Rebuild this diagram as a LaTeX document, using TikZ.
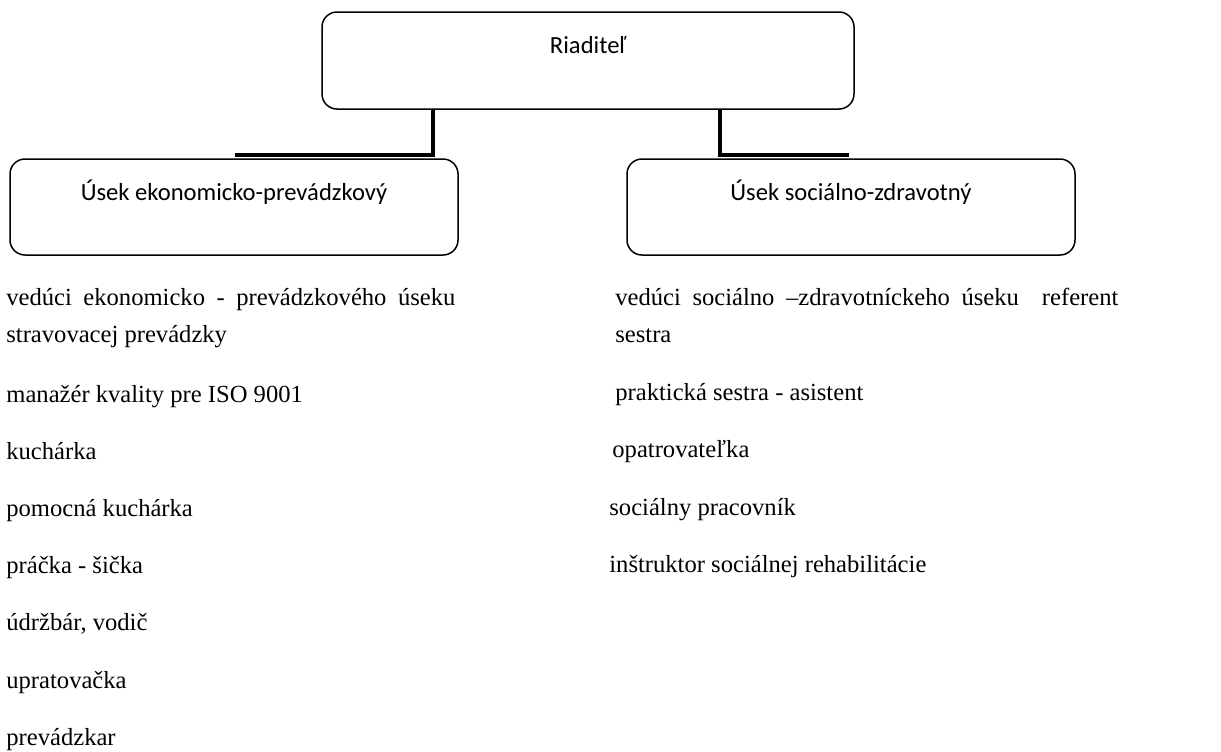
\documentclass[tikz,border=0pt]{standalone}
\usepackage{fontspec}
\setmainfont{Liberation Serif}
\newfontfamily\boxfont{Carlito}

\tikzset{
    usekbox/.style={draw, rounded corners=7.5pt, line width=0.75pt, inner sep=0pt,
        minimum height=48pt, text height=8pt, text depth=15pt,
        font=\boxfont\fontsize{12.3}{14}\selectfont},
    spoj/.style={line width=2pt},
    polozka/.style={anchor=base west, inner sep=0pt, font=\fontsize{12.3}{18.5}\selectfont},
}

\begin{document}
\begin{tikzpicture}[x=0.5pt,y=-0.5pt]
    \useasboundingbox (0,0) rectangle (1221,751);
    %boxes
    \node[usekbox, minimum width=266pt, minimum height=48.5pt] (riaditel) at (588,60.5) {Riaditeľ};
    \node[usekbox, minimum width=224pt] (usekEko) at (234,207) {Úsek ekonomicko-prevádzkový};
    \node[usekbox, minimum width=224pt] (usekSoc) at (851,207) {Úsek sociálno-zdravotný};

    %connectors
    \coordinate (ekoZlom) at (433,155);
    \coordinate (ekoKoniec) at (235,155);
    \coordinate (socZlom) at (720,155);
    \coordinate (socKoniec) at (849,155);
    \draw[spoj] (riaditel.south -| ekoZlom) -- (ekoZlom) -- (ekoKoniec);
    \draw[spoj] (riaditel.south -| socZlom) -- (socZlom) -- (socKoniec);

    %left column
    \node[polozka, text width=224.5pt, align=justify] (ekoVeduci) at (6,305)
        {\hyphenpenalty=10000 vedúci ekonomicko - prevádzkového úseku\linebreak stravovacej prevádzky};
    \foreach \txt [count=\i from 0] in {manažér kvality pre ISO 9001, kuchárka, pomocná kuchárka,
        práčka - šička, {údržbár, vodič}, upratovačka, prevádzkar}
        \node[polozka] (eko\i) at (6,{402+57.2*\i}) {\txt};

    %right column
    \node[polozka, text width=251.5pt, align=justify] (socVeduci) at (615,305)
        {\hyphenpenalty=10000 vedúci sociálno –zdravotníckeho úseku\ \ referent\linebreak sestra};
    \foreach \px/\txt [count=\i from 0] in {615/praktická sestra - asistent, 612/opatrovateľka,
        609/sociálny pracovník, 609/inštruktor sociálnej rehabilitácie}
        \node[polozka] (soc\i) at (\px,{400+57.6*\i}) {\txt};
\end{tikzpicture}
\end{document}
